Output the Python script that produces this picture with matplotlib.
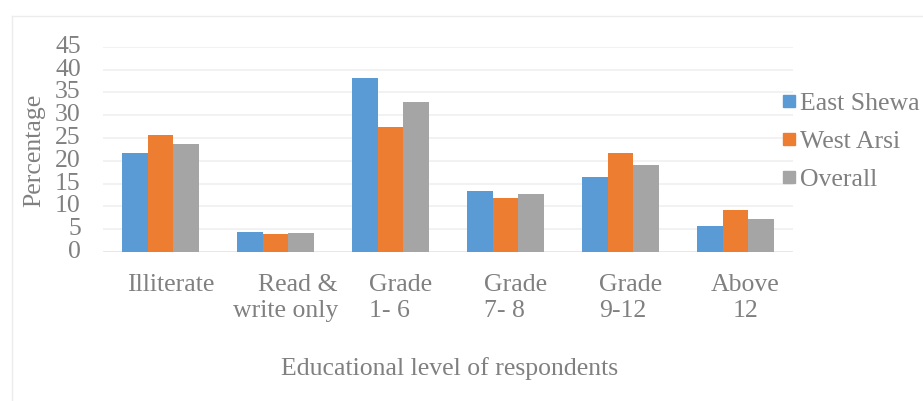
import numpy as np
import matplotlib.pyplot as plt
import matplotlib.transforms as mtransforms
from matplotlib.lines import Line2D

categories = ['Illiterate', 'Read &\nwrite only', 'Grade\n1- 6', 'Grade\n7- 8', 'Grade\n9-12', 'Above\n12']
east_shewa = [21.8, 4.4, 38.1, 13.4, 16.4, 5.6]
west_arsi = [25.7, 3.9, 27.5, 11.9, 21.8, 9.2]
overall = [23.7, 4.1, 32.9, 12.8, 19.1, 7.2]
series_names = ['East Shewa', 'West Arsi', 'Overall']

colors = ['#5b9bd5', '#ed7d31', '#a5a5a5']
text_col = '#808080'
fs = 18.5

plt.rcParams['font.family'] = ['Liberation Serif', 'DejaVu Serif']

fig = plt.figure(figsize=(9.23, 4.01), dpi=100)
ax = fig.add_axes([0.1116, 0.3716, 0.7474, 0.5114])

x = np.arange(len(categories))
w = 0.223
for i, (vals, name) in enumerate(zip([east_shewa, west_arsi, overall], series_names)):
    ax.bar(x + (i - 1) * w, vals, w, color=colors[i], label=name, zorder=3)

ax.set_xlim(-0.5, 5.5)
ax.set_ylim(0, 45)
ax.set_yticks(range(0, 50, 5))
ax.yaxis.grid(True, color='#f0f0f0', linewidth=1.2, zorder=0)
for s in ax.spines.values():
    s.set_visible(False)
ax.axhline(0, color='#e6e6e6', linewidth=1.2, zorder=2)

ax.set_xticks(x)
ax.set_xticklabels(categories, color=text_col, linespacing=1.23)
ax.tick_params(axis='both', length=0, labelsize=fs, labelcolor=text_col)
ax.tick_params(axis='x', pad=16)
ax.tick_params(axis='y', pad=16)
for lbl in ax.get_yticklabels():
    lbl.set_verticalalignment('center')
# excel-style labels sit a little right of the group centre
shift = mtransforms.ScaledTranslation(10 / 100, 0, fig.dpi_scale_trans)
for lbl in ax.get_xticklabels():
    lbl.set_transform(lbl.get_transform() + shift)
xt = ax.get_xticklabels()
xt[1].set_multialignment('right')
for k in (2, 3, 4):
    xt[k].set_multialignment('left')

fig.text(0.037, 0.626, 'Percentage', rotation=90, fontsize=fs, color=text_col,
         ha='center', va='center')
fig.text(0.487, 0.082, 'Educational level of respondents', fontsize=fs,
         color=text_col, ha='center', va='center')

handles = [Line2D([], [], marker='s', linestyle='none', markersize=9,
                  markerfacecolor=c, markeredgecolor=c) for c in colors]
fig.legend(handles, series_names, loc='upper left', bbox_to_anchor=(0.836, 0.797),
           frameon=False, fontsize=fs, labelcolor=text_col, handlelength=0.55,
           handletextpad=0.15, labelspacing=0.6, borderaxespad=0)

# faint outer chart frame
fig.add_artist(Line2D([12 / 923, 12 / 923], [0, 1 - 16 / 401], color='#ececec', lw=1))
fig.add_artist(Line2D([12 / 923, 1], [1 - 16 / 401, 1 - 16 / 401], color='#ececec', lw=1))

fig.savefig('out.png', dpi=100)
